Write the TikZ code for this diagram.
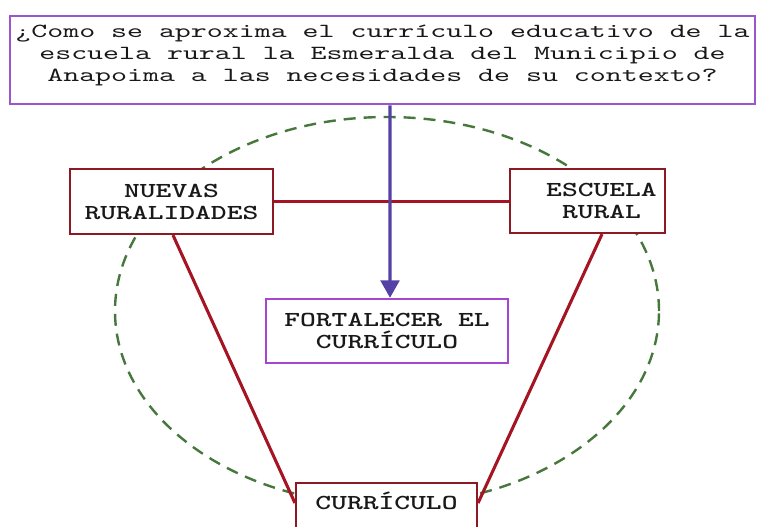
\documentclass[tikz,border=0pt]{standalone}
\usepackage{fontspec}
\usetikzlibrary{arrows.meta}
\newfontfamily\qfont[FakeStretch=1.52]{lmmono10-regular.otf}
\newfontfamily\bxfont[FakeStretch=1.41, BoldFont=lmmonolt10-bold.otf]{lmmono10-regular.otf}
\definecolor{qpurple}{RGB}{155,85,205}
\definecolor{fpurple}{RGB}{165,70,210}
\definecolor{arrowc}{RGB}{85,65,165}
\definecolor{boxred}{RGB}{140,25,35}
\definecolor{linered}{RGB}{165,20,35}
\definecolor{dgreen}{RGB}{70,120,60}
\definecolor{txt}{RGB}{25,25,25}
\tikzset{
  redbox/.style={draw=boxred, line width=1.6pt, fill=white, inner sep=0pt, align=center,
    text=txt, font=\bxfont\bfseries\fontsize{16}{16.5}\selectfont},
  purplebox/.style={draw=fpurple, line width=1.8pt, fill=white, inner sep=0pt, align=center,
    text=txt, font=\bxfont\bfseries\fontsize{16}{16.5}\selectfont},
  redline/.style={draw=linered, line width=2.3pt},
  ring/.style={draw=dgreen, line width=1.8pt, dash pattern=on 9pt off 6pt}
}
\begin{document}
\begin{tikzpicture}[x=0.75pt,y=-0.75pt]
\clip (0,0) rectangle (760,527);
\fill[white] (0,0) rectangle (760,527);
\draw[ring] (387,311) ellipse [x radius=204pt, y radius=145.5pt];
\node[draw=qpurple, line width=2.2pt, fill=white, inner sep=0pt, align=center, text=txt,
  minimum width=558.75pt, minimum height=66pt,
  font=\qfont\fontsize{15}{16.5}\selectfont] (q) at (382.5,60)
  {¿Como se aproxima el currículo educativo de la\\
   escuela rural la Esmeralda del Municipio de\\
   Anapoima a las necesidades de su contexto?\rule[-10.5pt]{0pt}{0pt}};
\node[redbox, minimum width=152.25pt, minimum height=48.75pt] (nr) at (171.5,201.5)
  {NUEVAS\\RURALIDADES};
\node[redbox, minimum width=116.25pt, minimum height=48pt] (er) at (587.5,201)
  {\hspace*{21pt}ESCUELA\\\hspace*{21pt}RURAL};
\node[purplebox, minimum width=181.5pt, minimum height=48pt] (fort) at (387,331)
  {FORTALECER EL\\CURRÍCULO};
\node[redbox, anchor=north, minimum width=135.75pt, text height=19.5pt, text depth=60pt]
  (cur) at (386.5,482) {CURRÍCULO};
\draw[redline] (nr.east) -- (nr.east -| er.west);
\draw[redline] ([xshift=1.1pt]nr.south) -- ([yshift=-15.75pt]cur.north west);
\draw[redline] ([xshift=10.9pt]er.south) -- ([yshift=-15.75pt]cur.north east);
\draw[arrowc, line width=2.3pt, -{Triangle[width=14pt,length=13pt]}]
  ([xshift=5.6pt]q.south) -- ([xshift=2.25pt]fort.north);
\end{tikzpicture}
\end{document}
